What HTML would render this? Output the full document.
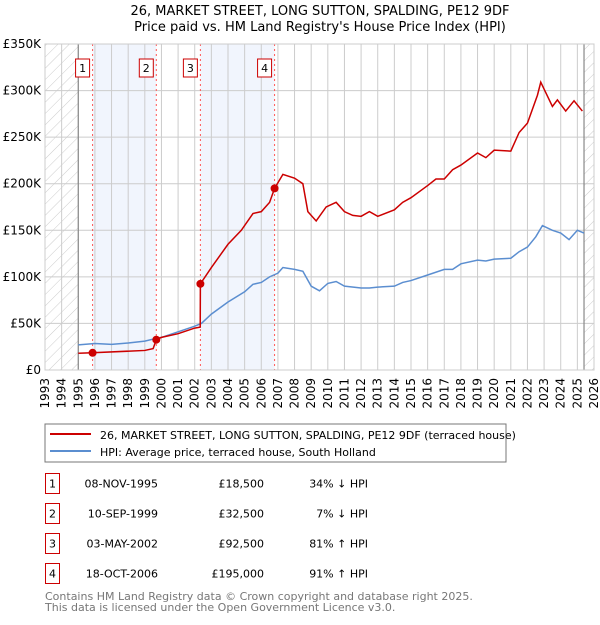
<!DOCTYPE html>
<html><head><meta charset="utf-8"><style>
body{margin:0;background:#fff;width:600px;height:620px;overflow:hidden}
svg{font-family:"DejaVu Sans","Liberation Sans",sans-serif}
</style></head><body>
<svg id="c" width="600" height="620" xmlns="http://www.w3.org/2000/svg">
<defs><pattern id="h" width="8" height="8" patternUnits="userSpaceOnUse" patternTransform="rotate(45)"><line x1="0" y1="0" x2="0" y2="8" stroke="#ccc" stroke-width="1"/></pattern></defs>
<text x="320" y="15" text-anchor="middle" font-size="13">26, MARKET STREET, LONG SUTTON, SPALDING, PE12 9DF</text>
<text x="320" y="31" text-anchor="middle" font-size="13">Price paid vs. HM Land Registry's House Price Index (HPI)</text>
<g id="plot"></g>
<rect x="45" y="424" width="461" height="38" fill="#fff" stroke="#777"/>
<line x1="50" y1="434" x2="91" y2="434" stroke="#cc0000" stroke-width="2"/>
<text x="100" y="439" font-size="11">26, MARKET STREET, LONG SUTTON, SPALDING, PE12 9DF (terraced house)</text>
<line x1="50" y1="451" x2="91" y2="451" stroke="#5b8ed0" stroke-width="2"/>
<text x="100" y="456" font-size="11">HPI: Average price, terraced house, South Holland</text>
<g id="table" font-size="11"></g>
<text x="45" y="600" font-size="11" fill="#777">Contains HM Land Registry data © Crown copyright and database right 2025.</text>
<text x="45" y="611" font-size="11" fill="#777">This data is licensed under the Open Government Licence v3.0.</text>
</svg>
<script>
const hpiYears=[1995,1996,1997,1998,1999,1999.7,2000,2001,2002,2002.4,2003,2004,2005,2005.5,2006,2006.5,2007,2007.3,2008,2008.5,2009,2009.5,2010,2010.5,2011,2012,2012.5,2013,2014,2014.5,2015,2016,2017,2017.5,2018,2019,2019.5,2020,2021,2021.5,2022,2022.5,2022.9,2023.5,2024,2024.5,2025,2025.4];
const hpiValues=[27,28.5,27.5,29,31,34,35,41,47,50,60,73,84,92,94,100,104,110,108,106,90,85,93,95,90,88,88,89,90,94,96,102,108,108,114,118,117,119,120,127,132,143,155,150,147,140,150,147];
const propYears=[1995,1995.85,1999,1999.5,1999.69,2000,2001,2002,2002.33,2002.34,2003,2004,2004.8,2005.5,2006,2006.5,2006.8,2007.3,2008,2008.5,2008.8,2009.3,2009.9,2010.5,2011,2011.5,2012,2012.5,2013,2014,2014.5,2015,2016,2016.5,2017,2017.5,2018,2019,2019.5,2020,2021,2021.5,2022,2022.6,2022.8,2023.5,2023.8,2024.3,2024.8,2025.3];
const propValues=[18,18.5,21,23,32.5,35,39,45,46,92.5,110,135,150,168,170,180,195,210,206,200,170,160,175,180,170,166,165,170,165,172,180,185,198,205,205,215,220,233,228,236,235,255,265,295,309,283,290,278,289,278];
const saleYears=[1995.86,1999.69,2002.34,2006.8];
const saleValues=[18.5,32.5,92.5,195];
const saleLabels=["1","2","3","4"];
const saleDates=["08-NOV-1995","10-SEP-1999","03-MAY-2002","18-OCT-2006"];
const salePrices=["£18,500","£32,500","£92,500","£195,000"];
const saleDiffs=["34% ↓ HPI","7% ↓ HPI","81% ↑ HPI","91% ↑ HPI"];
const yTicks=[0,50,100,150,200,250,300,350];
const yTickLabels=["£0","£50K","£100K","£150K","£200K","£250K","£300K","£350K"];
const NS="http://www.w3.org/2000/svg";
const X0=45,X1=594,Y0=370,Y1=44;
const x=t=>X0+(t-1993)/(2026-1993)*(X1-X0);
const y=v=>Y0-v/350*(Y0-Y1);
const g=document.getElementById('plot');
function mk(tag,at,parent){const e=document.createElementNS(NS,tag);for(const k in at)e.setAttribute(k,at[k]);(parent||g).appendChild(e);return e;}
let e;
e=mk('rect',{x:x(saleYears[0]),y:Y1,width:x(saleYears[1])-x(saleYears[0]),height:Y0-Y1,fill:'#eef3fc',opacity:0.8});


e=mk('rect',{x:x(saleYears[2]),y:Y1,width:x(saleYears[3])-x(saleYears[2]),height:Y0-Y1,fill:'#eef3fc',opacity:0.8});


e=mk('rect',{x:X0,y:Y1,width:x(1995)-X0,height:Y0-Y1,fill:'url(#h)'});


e=mk('rect',{x:x(2025.4),y:Y1,width:X1-x(2025.4),height:Y0-Y1,fill:'url(#h)'});


for(let yr=1993;yr<=2026;yr++){
 e=mk('line',{x1:x(yr),x2:x(yr),y1:Y1,y2:Y0,stroke:'#ccc','stroke-width':1});
 
 
 e=mk('text',{x:0,y:0,'font-size':12,'text-anchor':'end',transform:`translate(${x(yr)+4},${Y0+8}) rotate(-90)`});
 e.textContent=yr;
 
 
}
yTicks.forEach((v,i)=>{
 e=mk('line',{x1:X0,x2:X1,y1:y(v),y2:y(v),stroke:'#ccc','stroke-width':1});
 
 
 e=mk('text',{x:X0-4,y:y(v)+4,'font-size':12,'text-anchor':'end'});
 e.textContent=yTickLabels[i];
 
 
});
e=mk('line',{x1:x(1995),x2:x(1995),y1:Y1,y2:Y0,stroke:'#888','stroke-width':1.2});


e=mk('line',{x1:x(2025.4),x2:x(2025.4),y1:Y1,y2:Y0,stroke:'#888','stroke-width':1.2});


saleYears.forEach((t,i)=>{
 e=mk('line',{x1:x(t),x2:x(t),y1:Y1,y2:Y0,stroke:'#f55','stroke-width':1,'stroke-dasharray':'2,3'});
 
 
});
e=mk('polyline',{points:hpiYears.map((t,i)=>x(t)+','+y(hpiValues[i])).join(' '),fill:'none',stroke:'#5b8ed0','stroke-width':1.5});


e=mk('polyline',{points:propYears.map((t,i)=>x(t)+','+y(propValues[i])).join(' '),fill:'none',stroke:'#cc0000','stroke-width':1.5});


saleYears.forEach((t,i)=>{
 e=mk('circle',{cx:x(t),cy:y(saleValues[i]),r:4,fill:'#cc0000'});
 
 
 e=mk('rect',{x:x(t)-17,y:59,width:14,height:18,fill:'#fff',stroke:'#cc0000'});
 
 
 e=mk('text',{x:x(t)-10,y:72,'font-size':11,'text-anchor':'middle'});
 e.textContent=saleLabels[i];
 
 
});
e=mk('rect',{x:X0,y:Y1,width:X1-X0,height:Y0-Y1,fill:'none',stroke:'#ccc'});


const tb=document.getElementById('table');
saleLabels.forEach((l,i)=>{
 const cy=483.5+i*30;
 e=mk('rect',{x:45.5,y:cy-10,width:14,height:20,fill:'#fff',stroke:'#cc0000'},tb);
 
 
 e=mk('text',{x:52.5,y:cy+4,'text-anchor':'middle'},tb);e.textContent=l;
 
 
 e=mk('text',{x:158,y:cy+4,'text-anchor':'end'},tb);e.textContent=saleDates[i];
 
 
 e=mk('text',{x:264,y:cy+4,'text-anchor':'end'},tb);e.textContent=salePrices[i];
 
 
 e=mk('text',{x:368,y:cy+4,'text-anchor':'end'},tb);e.textContent=saleDiffs[i];
 
 
});
</script>
</body></html>
